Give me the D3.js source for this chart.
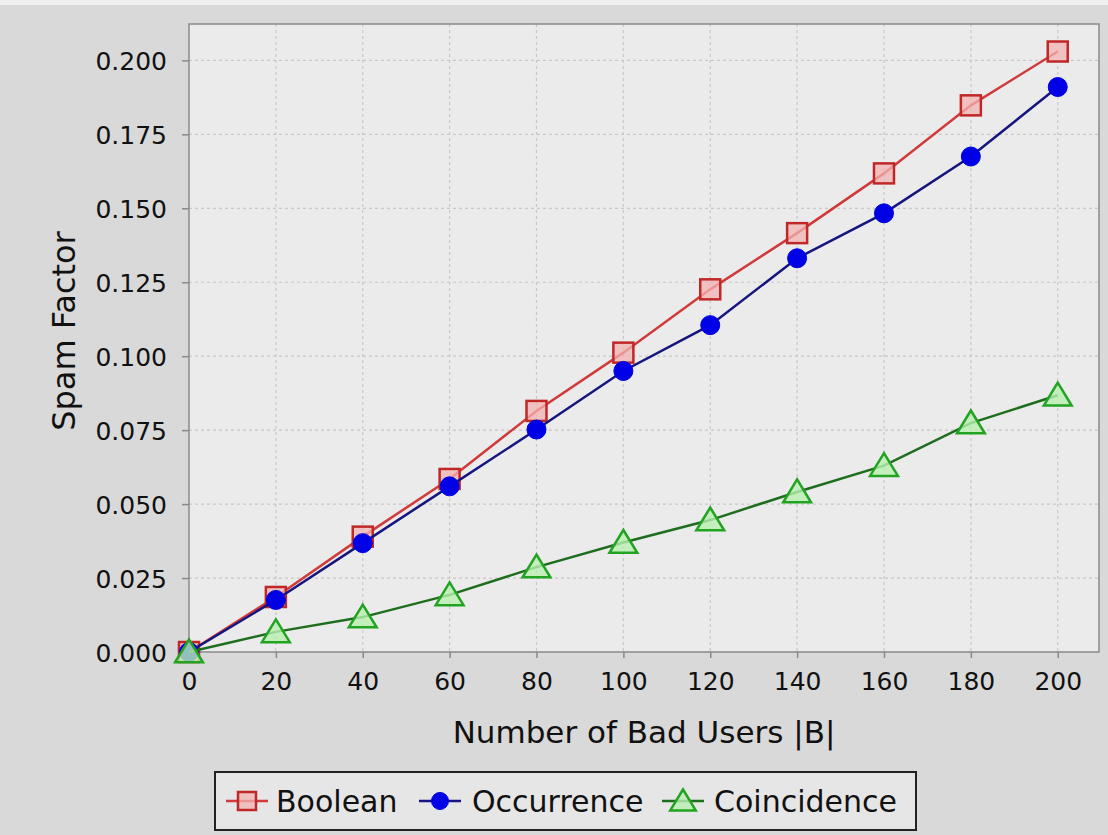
<!DOCTYPE html>
<html>
<head>
<meta charset="utf-8">
<script src="https://cdn.jsdelivr.net/npm/d3@7"></script>
<style>
  body { margin: 0; background: #d9d9d9; }
  svg { display: block; }
</style>
</head>
<body>
<svg id="chart"></svg>
<script>
// data
const badUsers = [0, 20, 40, 60, 80, 100, 120, 140, 160, 180, 200]
const booleanVals = [0.000, 0.0186, 0.0390, 0.0585, 0.0815, 0.1012, 0.1226, 0.1416, 0.1618, 0.1848, 0.2030]
const occurrenceVals = [0.000, 0.0176, 0.0368, 0.0560, 0.0752, 0.0950, 0.1105, 0.1331, 0.1483, 0.1675, 0.1910]
const coincidenceVals = [0.000, 0.0068, 0.0118, 0.0193, 0.0287, 0.0370, 0.0446, 0.0541, 0.0630, 0.0774, 0.0868]
const xTicks = [0, 20, 40, 60, 80, 100, 120, 140, 160, 180, 200]
const yTicks = [0, 0.025, 0.05, 0.075, 0.1, 0.125, 0.15, 0.175, 0.2]
const seriesNames = ["Boolean", "Occurrence", "Coincidence"]

const colors = {
    page: "#d9d9d9",
    plot: "#ebebeb",
    grid: "#c8c8c8",
    border: "#8a8a8a",
    text: "#111"
}

const series = [
    {name: seriesNames[0], values: booleanVals, line: "#d03a3a", stroke: "#c02828", fill: "#f3b3b3", shape: "square"},
    {name: seriesNames[1], values: occurrenceVals, line: "#151580", stroke: "#0000dd", fill: "#0000e6", shape: "circle"},
    {name: seriesNames[2], values: coincidenceVals, line: "#1f6e1f", stroke: "#22a322", fill: "#b8f0b0", shape: "triangle"}
]

const W = 1108, H = 835
const plot = {left: 189, top: 24, right: 1099, bottom: 652}
const font = "'DejaVu Sans', sans-serif"

const svg = d3.select("#chart").attr("width", W).attr("height", H)

svg.append("rect").attr("width", W).attr("height", H).attr("fill", colors.page)
svg.append("rect").attr("width", W).attr("height", 5).attr("fill", "#f0f0f0") // светлая полоса сверху

const x = d3.scaleLinear().domain([0, 209.5]).range([plot.left, plot.right])
const y = d3.scaleLinear().domain([0, 0.2123]).range([plot.bottom, plot.top])

// фон области графика
svg.append("rect")
    .attr("x", plot.left).attr("y", plot.top)
    .attr("width", plot.right - plot.left).attr("height", plot.bottom - plot.top)
    .attr("fill", colors.plot)

// сетка
const grid = svg.append("g").attr("class", "grid")
grid.selectAll(".gx").data(xTicks.slice(1)).enter().append("line")
    .attr("x1", d => x(d)).attr("x2", d => x(d))
    .attr("y1", plot.top).attr("y2", plot.bottom)
grid.selectAll(".gy").data(yTicks.slice(1)).enter().append("line")
    .attr("x1", plot.left).attr("x2", plot.right)
    .attr("y1", d => y(d)).attr("y2", d => y(d))
grid.selectAll("line")
    .attr("stroke", colors.grid).attr("stroke-width", 1.2)
    .attr("stroke-dasharray", "3,3")

// оси
const xAxis = svg.append("g")
    .attr("transform", `translate(0,${plot.bottom})`)
    .call(d3.axisBottom(x).tickValues(xTicks).tickSize(6).tickPadding(9).tickFormat(d3.format("d")))
const yAxis = svg.append("g")
    .attr("transform", `translate(${plot.left},0)`)
    .call(d3.axisLeft(y).tickValues(yTicks).tickSize(7).tickPadding(15).tickFormat(d3.format(".3f")))

for (const ax of [xAxis, yAxis]) {
    ax.select(".domain").remove()
    ax.selectAll(".tick line").attr("stroke", colors.border).attr("stroke-width", 1.5)
    ax.selectAll(".tick text")
        .attr("fill", colors.text)
        .style("font-family", font)
        .style("font-size", "25px")
}
xAxis.selectAll(".tick text").attr("dy", "0.9em")
yAxis.selectAll(".tick text").attr("dy", "0.36em")

// рамка
svg.append("rect")
    .attr("x", plot.left).attr("y", plot.top)
    .attr("width", plot.right - plot.left).attr("height", plot.bottom - plot.top)
    .attr("fill", "none").attr("stroke", colors.border).attr("stroke-width", 1.5)

// подписи осей
svg.append("text")
    .attr("x", (plot.left + plot.right) / 2).attr("y", 743)
    .attr("text-anchor", "middle")
    .attr("fill", colors.text)
    .style("font-family", font).style("font-size", "31px")
    .text("Number of Bad Users |B|")

svg.append("text")
    .attr("transform", `translate(75,331) rotate(-90)`)
    .attr("text-anchor", "middle")
    .attr("fill", colors.text)
    .style("font-family", font).style("font-size", "32px")
    .text("Spam Factor")

// маркеры
const drawMarker = (g, s, size) => {
    if (s.shape === "square") {
        g.append("rect")
            .attr("x", -size / 2).attr("y", -size / 2)
            .attr("width", size).attr("height", size)
            .attr("fill", s.fill).attr("fill-opacity", 0.75)
            .attr("stroke", s.stroke).attr("stroke-width", 2.5)
    } else if (s.shape === "circle") {
        g.append("circle").attr("r", size / 2)
            .attr("fill", s.fill).attr("stroke", s.stroke).attr("stroke-width", 1)
    } else {
        const h = size * 0.95
        g.append("path")
            .attr("d", `M0,${-h * 0.55} L${size * 0.58},${h * 0.45} L${-size * 0.58},${h * 0.45} Z`)
            .attr("fill", s.fill).attr("fill-opacity", 0.8)
            .attr("stroke", s.stroke).attr("stroke-width", 2.5)
            .attr("stroke-linejoin", "miter")
    }
}

const markerSize = {square: 20, circle: 19, triangle: 24}

const line = d3.line().x(d => x(d[0])).y(d => y(d[1]))

const lines = svg.append("g").attr("class", "series")
series.forEach(s => {
    const pts = badUsers.map((b, i) => [b, s.values[i]])
    const g = lines.append("g")
    g.append("path")
        .attr("d", line(pts))
        .attr("fill", "none")
        .attr("stroke", s.line)
        .attr("stroke-width", 2.5)
    g.selectAll(".pt").data(pts).enter().append("g")
        .attr("transform", d => `translate(${x(d[0])},${y(d[1])})`)
        .each(function () { drawMarker(d3.select(this), s, markerSize[s.shape]) })
})

// легенда
const legend = svg.append("g").attr("class", "legend")
legend.append("rect")
    .attr("x", 215).attr("y", 772).attr("width", 701).attr("height", 58)
    .attr("fill", "#e6e6e6").attr("stroke", "#222").attr("stroke-width", 2)

const legendPos = [{sx: 247, tx: 276}, {sx: 440, tx: 472}, {sx: 683, tx: 714}]
series.forEach((s, i) => {
    const item = legend.append("g").attr("transform", `translate(${legendPos[i].sx},801)`)
    item.append("line").attr("x1", -21).attr("x2", 21)
        .attr("stroke", s.line).attr("stroke-width", 2.5)
    drawMarker(item, s, markerSize[s.shape] - 2)
    legend.append("text")
        .attr("x", legendPos[i].tx).attr("y", 812)
        .attr("fill", colors.text)
        .style("font-family", font).style("font-size", "30px")
        .text(s.name)
})
</script>
</body>
</html>
